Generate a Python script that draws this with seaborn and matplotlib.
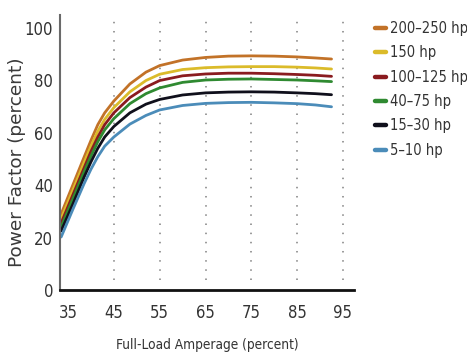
import numpy as np
import pandas as pd
import matplotlib
matplotlib.use("Agg")
import matplotlib.pyplot as plt
from matplotlib.font_manager import FontProperties
import seaborn as sns

# Full-load amperage (percent) sample points
amperage = [33.5, 36, 38.5, 40, 41.5, 43, 45, 48.5, 52, 55, 60, 65, 70, 75, 80, 85, 89, 92.5]

# Power factor (percent) by motor size
pf_200_250 = [29, 39.8, 50.6, 57, 63, 67.5, 72, 78.5, 83, 85.5, 87.6, 88.6, 89.1, 89.2, 89.1, 88.8, 88.4, 88]
pf_150 = [27.2, 37.8, 48.5, 54.8, 60.5, 65, 69.5, 75.5, 79.8, 82.2, 84, 84.7, 85, 85.1, 85.1, 84.9, 84.6, 84.2]
pf_100_125 = [25.5, 36, 46.5, 52.8, 58.3, 63, 67.5, 73.3, 77.3, 79.8, 81.6, 82.3, 82.6, 82.6, 82.4, 82.1, 81.8, 81.4]
pf_40_75 = [24, 34.5, 45, 51, 56.5, 61, 65.3, 71, 74.8, 77, 79.1, 80, 80.3, 80.4, 80.2, 80, 79.7, 79.4]
pf_15_30 = [22.5, 32.5, 43, 48.8, 54, 58.3, 62.3, 67.5, 70.8, 72.6, 74.3, 75.1, 75.4, 75.5, 75.4, 75.1, 74.8, 74.4]
pf_5_10 = [20.2, 30.5, 40.5, 46, 50.8, 54.8, 58.3, 63.2, 66.5, 68.6, 70.3, 71.1, 71.4, 71.5, 71.3, 71, 70.5, 69.8]

labels = ["200\u2013250 hp", "150 hp", "100\u2013125 hp", "40\u201375 hp", "15\u201330 hp", "5\u201310 hp"]
series = [pf_200_250, pf_150, pf_100_125, pf_40_75, pf_15_30, pf_5_10]
colors = ["#c27228", "#dbbb2a", "#8a1b1f", "#2f8a31", "#10101c", "#4b8cb9"]

xticks = [35, 45, 55, 65, 75, 85, 95]
yticks = [0, 20, 40, 60, 80, 100]

df = pd.DataFrame(
    [(x, y, lab) for lab, vals in zip(labels, series) for x, y in zip(amperage, vals)],
    columns=["amperage", "pf", "size"],
)

sns.set_theme(style="white")


def cond(size):
    return FontProperties(family=["DejaVu Sans"], stretch="condensed", size=size)


fig = plt.figure(figsize=(4.67, 3.55), dpi=100)
ax = fig.add_axes([0.1285, 0.183, 0.6295, 0.775])

# dotted guides at each major amperage tick
ax.vlines(xticks[1:], 4, 104, colors="#808080", linestyles=(0, (1, 5)), linewidth=1.1, zorder=0)

sns.lineplot(
    data=df, x="amperage", y="pf", hue="size", hue_order=labels,
    palette=dict(zip(labels, colors)), linewidth=2.0, ax=ax, legend=True,
)

ax.set_xlim(33.25, 97.4)
ax.set_ylim(0, 104.8)
ax.set_xticks(xticks)
ax.set_yticks(yticks)
ax.set_xticklabels([str(t) for t in xticks], fontproperties=cond(12), color="#333333")
ax.set_yticklabels([str(t) for t in yticks], fontproperties=cond(12), color="#333333")
ax.tick_params(axis="x", length=0, pad=10)
ax.tick_params(axis="y", length=0, pad=5)

for s in ["top", "right"]:
    ax.spines[s].set_visible(False)
ax.spines["left"].set_color("#6a6a6a")
ax.spines["left"].set_linewidth(1.5)
ax.spines["bottom"].set_color("#111111")
ax.spines["bottom"].set_linewidth(2.0)

ax.set_xlabel("Full-Load Amperage (percent)", fontproperties=cond(9.8), color="#333333")
ax.xaxis.label.set_va("center")
ax.xaxis.set_label_coords(0.5, -0.2)
ax.set_ylabel("Power Factor (percent)", family=["DejaVu Sans"], fontsize=13.3, color="#3a3a3a")
ax.yaxis.label.set_va("center")
ax.yaxis.set_label_coords(-0.146, 0.465)

handles, _ = ax.get_legend_handles_labels()
for h in handles:
    h.set_linewidth(3.2)
leg = ax.legend(
    handles, labels, loc="upper left", bbox_to_anchor=(375 / 467, 1 - 21 / 355),
    bbox_transform=fig.transFigure, frameon=False, borderpad=0, borderaxespad=0,
    handlelength=0.75, handletextpad=0.25, labelspacing=0.64, prop=cond(10.5),
)
for t in leg.get_texts():
    t.set_color("#333333")

fig.savefig("out.png", dpi=100)
